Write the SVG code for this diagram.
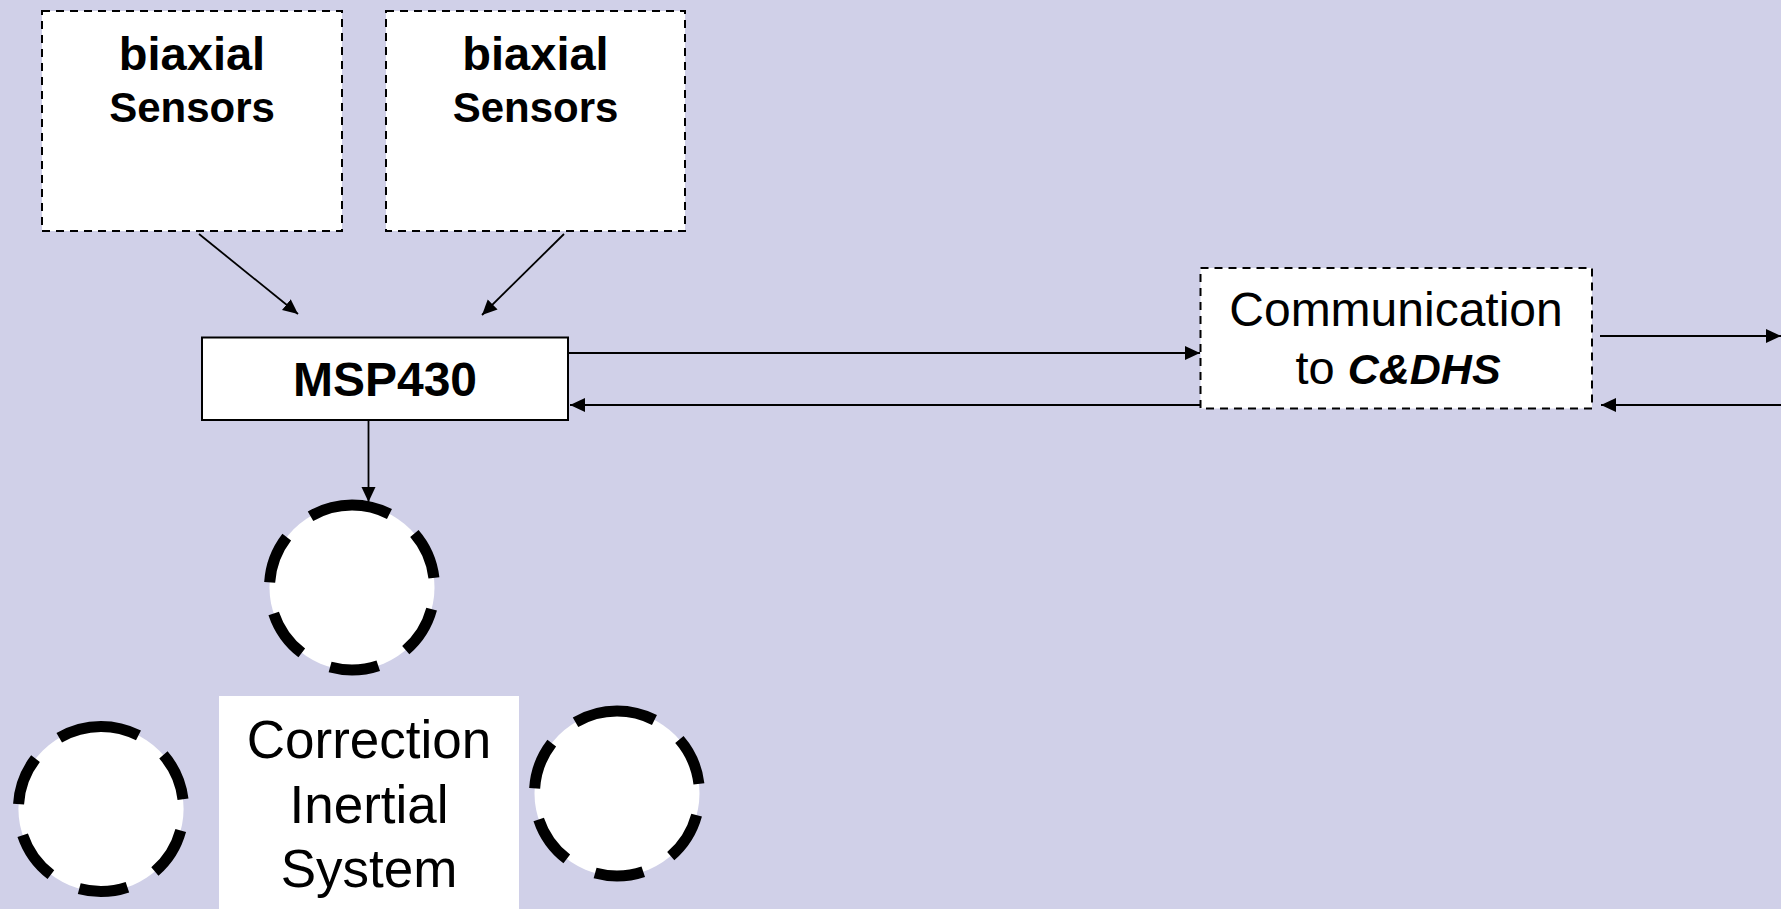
<svg xmlns="http://www.w3.org/2000/svg" width="1781" height="909" viewBox="0 0 1781 909">
  <style>
    text { font-family: "Liberation Sans", Arial, sans-serif; fill: #000; }
    .dashbox { fill: #fff; stroke: #000; stroke-width: 2; stroke-dasharray: 8 6; }
    .solidbox { fill: #fff; stroke: #000; stroke-width: 2; }
    .wire { stroke: #000; stroke-width: 1.8; fill: none; }
    .ring { fill: #fff; stroke: #000; stroke-width: 11; stroke-dasharray: 49 31.7; stroke-dashoffset: 10.1; }
    .b { font-weight: bold; }
  </style>
  <defs>
    <marker id="arrow" markerUnits="userSpaceOnUse" markerWidth="16" markerHeight="15" refX="15" refY="7" orient="auto">
      <path d="M0,0 L15,7 L0,14 z" fill="#000"/>
    </marker>
  </defs>

  <rect width="1781" height="909" fill="#D0D0E8"/>

  <g id="sensor-1">
    <rect class="dashbox" x="42" y="11" width="300" height="220"/>
    <text class="b" x="192" y="70" font-size="47" text-anchor="middle">biaxial</text>
    <text class="b" x="192" y="122" font-size="42" text-anchor="middle">Sensors</text>
  </g>

  <g id="sensor-2">
    <rect class="dashbox" x="386" y="11" width="299" height="220"/>
    <text class="b" x="535.5" y="70" font-size="47" text-anchor="middle">biaxial</text>
    <text class="b" x="535.5" y="122" font-size="42" text-anchor="middle">Sensors</text>
  </g>

  <g id="msp430">
    <rect class="solidbox" x="202" y="337.5" width="366" height="82.5"/>
    <text class="b" x="385" y="396" font-size="48" text-anchor="middle">MSP430</text>
  </g>

  <g id="communication">
    <rect class="dashbox" x="1200.5" y="268" width="391.5" height="140.5"/>
    <text x="1396" y="326" font-size="48" text-anchor="middle">Communication</text>
    <text x="1398" y="384" font-size="47" text-anchor="middle">to <tspan font-weight="bold" font-style="italic" font-size="43">C&amp;DHS</tspan></text>
  </g>

  <g id="wheel-top">
    <path class="ring" d="M352,505 A82.5,82.5 0 1 1 352,670 A82.5,82.5 0 1 1 352,505"/>
  </g>

  <g id="wheel-left">
    <path class="ring" d="M101,726.5 A82.5,82.5 0 1 1 101,891.5 A82.5,82.5 0 1 1 101,726.5"/>
  </g>

  <g id="wheel-right">
    <path class="ring" d="M617,711 A82.5,82.5 0 1 1 617,876 A82.5,82.5 0 1 1 617,711"/>
  </g>

  <g id="correction">
    <rect x="219" y="696" width="300" height="220" fill="#fff"/>
    <text x="369" y="758" font-size="53" text-anchor="middle">Correction</text>
    <text x="369" y="823" font-size="53" text-anchor="middle">Inertial</text>
    <text x="369" y="887" font-size="53" text-anchor="middle">System</text>
  </g>

  <g id="connectors">
    <line class="wire" x1="199" y1="234" x2="298" y2="314" marker-end="url(#arrow)"/>
    <line class="wire" x1="564" y1="234" x2="482" y2="315" marker-end="url(#arrow)"/>
    <line class="wire" x1="568" y1="353" x2="1200" y2="353" marker-end="url(#arrow)"/>
    <line class="wire" x1="1200" y1="405" x2="570" y2="405" marker-end="url(#arrow)"/>
    <line class="wire" x1="368.5" y1="420" x2="368.5" y2="502" marker-end="url(#arrow)"/>
    <line class="wire" x1="1600" y1="336" x2="1781" y2="336" marker-end="url(#arrow)"/>
    <line class="wire" x1="1781" y1="405" x2="1601" y2="405" marker-end="url(#arrow)"/>
  </g>
</svg>
